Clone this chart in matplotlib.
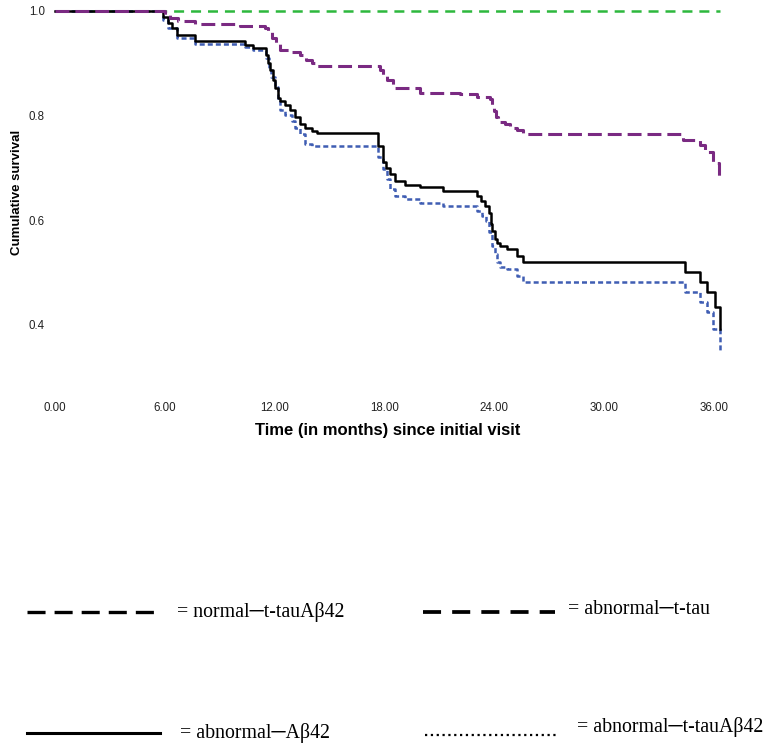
import matplotlib
matplotlib.use("Agg")
import matplotlib.pyplot as plt
from matplotlib.lines import Line2D

plt.rcParams['lines.scale_dashes'] = False

# ---- data (months, cumulative survival) ----
green_t = [0, 36.34]
green_s = [1.0, 1.0]

purple_t = [0, 6.0, 6.3, 6.7, 7.65, 10.1, 11.45, 11.64, 11.86, 12.08, 12.30, 12.84, 13.39, 13.72,
            14.04, 14.32, 17.76, 17.92, 18.14, 18.47, 19.95, 22.13, 23.06, 23.77, 23.9, 24.0,
            24.1, 24.2, 24.6, 24.86, 25.25, 25.57, 34.3, 35.25, 35.5, 35.96, 36.3]
purple_s = [1.0, 0.992, 0.987, 0.980, 0.975, 0.972, 0.968, 0.960, 0.949, 0.937, 0.926, 0.922, 0.916,
            0.907, 0.901, 0.895, 0.888, 0.876, 0.869, 0.853, 0.844, 0.841, 0.836, 0.832, 0.821,
            0.808, 0.798, 0.787, 0.783, 0.777, 0.773, 0.764, 0.754, 0.743, 0.730, 0.709, 0.678]

black_t = [0, 5.9, 6.17, 6.39, 6.67, 7.65, 10.38, 10.82, 11.53, 11.64, 11.75, 11.91, 12.02, 12.19,
           12.30, 12.57, 12.84, 13.11, 13.39, 13.66, 14.04, 14.32, 17.65, 17.92, 18.09, 18.31,
           18.58, 19.13, 19.95, 21.2, 23.06, 23.28, 23.5, 23.7, 23.8, 23.9, 24.04, 24.15, 24.3,
           24.7, 25.25, 25.57, 34.43, 35.25, 35.63, 36.07, 36.34]
black_s = [1.0, 0.989, 0.977, 0.968, 0.954, 0.942, 0.935, 0.929, 0.916, 0.901, 0.888, 0.869, 0.853,
           0.834, 0.827, 0.821, 0.811, 0.798, 0.783, 0.777, 0.770, 0.766, 0.741, 0.712, 0.699,
           0.688, 0.675, 0.668, 0.663, 0.655, 0.646, 0.636, 0.627, 0.613, 0.592, 0.579, 0.564,
           0.556, 0.550, 0.545, 0.531, 0.520, 0.501, 0.482, 0.463, 0.434, 0.392]

blue_t = [0, 5.9, 6.2, 6.67, 7.65, 10.38, 10.82, 11.53, 11.69, 11.80, 12.02, 12.19, 12.30, 12.57,
          12.95, 13.11, 13.39, 13.66, 14.04, 17.65, 17.92, 18.14, 18.31, 18.58, 19.13, 19.95,
          21.2, 23.06, 23.33, 23.55, 23.72, 23.88, 24.04, 24.15, 24.32, 24.7, 25.25, 25.57,
          34.43, 35.25, 35.63, 35.96, 36.34]
blue_s = [1.0, 0.983, 0.968, 0.949, 0.937, 0.932, 0.926, 0.910, 0.891, 0.874, 0.855, 0.830, 0.811,
          0.802, 0.789, 0.777, 0.764, 0.745, 0.741, 0.720, 0.697, 0.678, 0.659, 0.646, 0.640,
          0.632, 0.627, 0.617, 0.608, 0.598, 0.577, 0.550, 0.535, 0.520, 0.510, 0.507, 0.493,
          0.482, 0.463, 0.444, 0.425, 0.392, 0.350]

x_ticks = [0, 6, 12, 18, 24, 30, 36]
y_ticks = [0.4, 0.6, 0.8, 1.0]
x_label = "Time (in months) since initial visit"
y_label = "Cumulative survival"
legend_labels = ["= normal\u2500t-tauA\u03b242", "= abnormal\u2500t-tau",
                 "= abnormal\u2500A\u03b242", "= abnormal\u2500t-tauA\u03b242"]

W, H = 770, 750
fig = plt.figure(figsize=(W / 100, H / 100), dpi=100)
ax = fig.add_axes([48 / W, 1 - 380 / H, (740 - 48) / W, (380 - 5) / H])

ax.step(green_t, green_s, where='post', color='#2DB83D', lw=1.8, linestyle=(0, (7.2, 5.0)))
ax.step(blue_t, blue_s, where='post', color='#3F5DB3', lw=1.8, linestyle=(0, (3.6, 2.2)))
ax.step(black_t, black_s, where='post', color='black', lw=1.8)
ax.step(purple_t, purple_s, where='post', color='#7A2A82', lw=2.2, linestyle=(0, (10, 4.3)))

ax.set_xlim((48 - 55) / 18.3, (740 - 55) / 18.3)
ax.set_ylim(1 - (380 - 11) / 523, 1 + (11 - 5) / 523)
for sp in ax.spines.values():
    sp.set_visible(False)
ax.set_xticks(x_ticks)
ax.set_xticklabels([f"{v:.2f}" for v in x_ticks])
ax.set_yticks(y_ticks)
ax.set_yticklabels([f"{v:.1f}" for v in y_ticks])
ax.tick_params(axis='both', length=0, labelsize=8.3, colors='#222222')
ax.tick_params(axis='x', pad=16)
ax.tick_params(axis='y', pad=2.2)
for lab in ax.get_xticklabels() + ax.get_yticklabels():
    lab.set_fontfamily('Liberation Sans')

fig.text(388 / W, 1 - 430 / H, x_label, ha='center', va='center', fontsize=12,
         fontweight='bold', family='Liberation Sans')
fig.text(17 / W, 1 - 192 / H, y_label, ha='center', va='center', rotation=90, fontsize=9.5,
         fontweight='bold', family='Liberation Sans')

# ---- legend drawn below ----
def fl(x0, x1, y, **kw):
    fig.add_artist(Line2D([x0 / W, x1 / W], [1 - y / H, 1 - y / H],
                          transform=fig.transFigure, color='black', **kw))

fl(27, 157, 612, lw=2.4, linestyle=(0, (13, 6.5)))
fl(423, 555, 612, lw=2.7, linestyle=(0, (13, 8)))
fl(27, 160, 733, lw=2.2)
fl(425, 558, 735, lw=1.6, linestyle=(0, (1.6, 2.6)))

tfam = ['Liberation Serif', 'DejaVu Serif']
fig.text(177 / W, 1 - 612 / H, legend_labels[0], ha='left', va='center', fontsize=14.3, family=tfam)
fig.text(568 / W, 1 - 610 / H, legend_labels[1], ha='left', va='center', fontsize=14.3, family=tfam)
fig.text(180 / W, 1 - 733 / H, legend_labels[2], ha='left', va='center', fontsize=14.3, family=tfam)
fig.text(577 / W, 1 - 727 / H, legend_labels[3], ha='left', va='center', fontsize=14.3, family=tfam)

fig.savefig("out.png", dpi=100)
